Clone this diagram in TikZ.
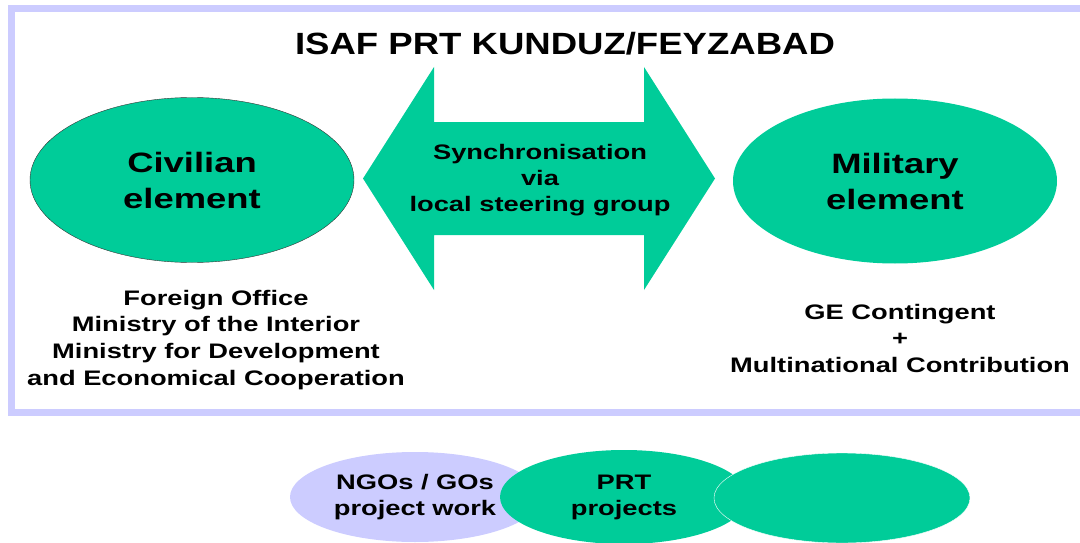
\documentclass[tikz,border=0pt]{standalone}
\usepackage{fontspec}
\setmainfont{Liberation Sans}[FakeStretch=1.3]
\newfontfamily\titlefont{Liberation Sans}[FakeStretch=1.19]
\usetikzlibrary{shapes.geometric,positioning}
\definecolor{isafgreen}{RGB}{0,204,153}
\definecolor{framelav}{RGB}{204,204,255}
\tikzset{
  elnode/.style  ={ellipse, fill=isafgreen, inner sep=0pt, align=center,
                   minimum width=324pt, minimum height=165pt,
                   font=\fontsize{28}{36}\selectfont\bfseries},
  subnode/.style ={ellipse, inner sep=0pt, align=center,
                   minimum width=250pt, minimum height=92pt,
                   font=\fontsize{21}{26}\selectfont\bfseries},
  infotext/.style={align=center, inner sep=0pt,
                   font=\fontsize{21}{26.7}\selectfont\bfseries},
}

\begin{document}
\begin{tikzpicture}[x=1pt,y=-1pt]
  \useasboundingbox (0,0) rectangle (1080,543);
  \clip (0,0) rectangle (1080,543);
  % frame of the PRT
  \draw[framelav, line width=7pt] (11.5,9) rectangle (1095,412);
  \node[font=\titlefont\fontsize{30.7}{36}\selectfont\bfseries, anchor=base]
    (title) at (565,55) {ISAF PRT KUNDUZ/FEYZABAD};
  % the two elements
  \node[elnode, draw=black!80, thin] (civ) at (192,180) {Civilian\\element};
  \node[elnode] (mil) at (895,181) {Military\\element};
  % double arrow between them
  \fill[isafgreen] (363,178.5) -- (434,67) -- (434,122) -- (644,122)
    -- (644,67) -- (715,178.5) -- (644,290) -- (644,235) -- (434,235)
    -- (434,290) -- cycle;
  \node[infotext, font=\fontsize{21}{26}\selectfont\bfseries] (sync) at (540,180.5)
    {Synchronisation\\via\\local steering group};
  \node[infotext, below=27pt of civ, xshift=24pt] (civtext)
    {Foreign Office\\Ministry of the Interior\\Ministry for Development\\and Economical Cooperation};
  \node[infotext, below=40pt of mil, xshift=5pt] (miltext)
    {GE Contingent\\+\\Multinational Contribution};
  % projects
  \node[subnode, fill=framelav, minimum width=250pt, minimum height=90pt]
    (ngo) at (415,497) {NGOs / GOs\\project work};
  \node[subnode, fill=isafgreen, minimum width=248pt, minimum height=94pt]
    (prt) at (624,497) {PRT\\projects};
  \node[subnode, fill=isafgreen, draw=white, thin, minimum width=256pt,
    minimum height=90pt] (rest) at (842,498) {};
\end{tikzpicture}
\end{document}
